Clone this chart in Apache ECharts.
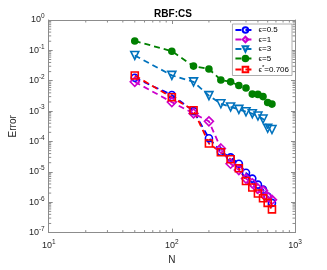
<!DOCTYPE html>
<html><head><meta charset="utf-8">
<script src="https://cdn.jsdelivr.net/npm/echarts@6/dist/echarts.min.js"></script>
<style>html,body{margin:0;padding:0;background:#fff}#c{width:327px;height:270px}</style>
</head><body><div id="c"></div>
<script>
var N = [50,100,150,200,250,300,350,400,450,500,550,600,650];
var err05 = [0.0125,0.0034,0.0010,1.28e-4,4.6e-5,3.0e-5,1.85e-5,9.3e-6,6.0e-6,3.8e-6,2.6e-6,1.55e-6,9.5e-7];
var err1  = [0.0092,0.00198,8.4e-4,4.6e-4,5.9e-5,1.85e-5,1.15e-5,6.0e-6,4.2e-6,2.8e-6,2.4e-6,1.5e-6,1.2e-6];
var err3  = [0.068,0.0150,0.0092,0.00323,0.00175,0.00137,0.00114,0.00095,0.00082,0.00069,0.00055,0.000273,0.000248];
var err5  = [0.204,0.094,0.0303,0.0244,0.0106,0.0092,0.0070,0.0058,0.00363,0.00355,0.0030,0.00193,0.0017];
var errOpt= [0.0148,0.00285,0.00107,8.6e-5,4.4e-5,2.6e-5,1.32e-5,5.0e-6,3.06e-6,1.93e-6,1.35e-6,9.5e-7,5.8e-7];
var seriesNames = ['ϵ=0.5','ϵ=1','ϵ=3','ϵ=5','ϵ*=0.706'];
var xTicks = [10,100,1000];
var yTicks = [1e-7,1e-6,1e-5,1e-4,1e-3,1e-2,1e-1,1];

function pairs(ys){ return N.map(function(n,i){ return [n, ys[i]]; }); }
var xMinor = [], yMinor = [];
for (var d = 1; d <= 2; d++) for (var k = 2; k <= 9; k++) xMinor.push(k*Math.pow(10,d));
for (var e = -7; e <= -1; e++) for (var k2 = 2; k2 <= 9; k2++) yMinor.push(k2*Math.pow(10,e));

var FONT = 'Liberation Sans';
var axisCol = '#8c8c8c';
function supLabel(v){
  var ex = Math.round(Math.log10(v));
  return '{b|10}{s|' + ex + '}';
}
var richLbl = { b:{fontSize:9,color:'#262626',fontFamily:FONT}, s:{fontSize:6.5,color:'#262626',fontFamily:FONT,verticalAlign:'bottom',padding:[0,0,7,0]} };

function mkSeries(name, ys, color, symbol, size, filled, rot){
  return {
    name:name, type:'line', data:pairs(ys), symbol:symbol, symbolSize:size, symbolRotate:rot||0,
    showAllSymbol:true, z:3,
    lineStyle:{color:color, width:1.8, type:[6,4]},
    itemStyle:{color: filled?color:'rgba(255,255,255,0)', borderColor:color, borderWidth:1.6}
  };
}

var chart = echarts.init(document.getElementById('c'), null, {renderer:'canvas'});
var option = {
  animation:false,
  textStyle:{fontFamily:FONT},
  title:{text:'RBF:CS', left:168, textAlign:'center', top:4, textStyle:{fontSize:10, fontWeight:'bold', color:'#000', fontFamily:FONT}},
  grid:{left:42, right:32, top:20, bottom:30},
  legend:{
    orient:'vertical', right:35, top:24, itemWidth:20, itemHeight:7, itemGap:1.5,
    padding:[2,3,2,2], borderColor:'#999', borderWidth:0.8, backgroundColor:'#fff',
    data:seriesNames,
    formatter:function(n){
      if (n==='ϵ*=0.706') return '{t|ϵ}{s|*}{t|=0.706}';
      return '{t|'+n+'}';
    },
    textStyle:{fontSize:8, color:'#000', fontFamily:FONT, padding:[0,0,0,-2],
      rich:{t:{fontSize:8,color:'#000',fontFamily:FONT}, s:{fontSize:6,color:'#000',verticalAlign:'bottom',padding:[0,0,5,0]}}}
  },
  xAxis:[{
    type:'log', min:10, max:1000, logBase:10,
    name:'N', nameLocation:'middle', nameGap:21, nameTextStyle:{fontSize:10,color:'#262626',fontFamily:FONT},
    axisLine:{show:true,onZero:false,lineStyle:{color:axisCol,width:1}},
    axisTick:{show:true,inside:true,length:4,lineStyle:{color:axisCol}},
    axisLabel:{formatter:supLabel, rich:richLbl, margin:6},
    splitLine:{show:false}
  },{
    type:'log', min:10, max:1000, position:'top',
    axisLine:{show:true,onZero:false,lineStyle:{color:axisCol,width:1}},
    axisTick:{show:true,inside:true,length:4,lineStyle:{color:axisCol}},
    axisLabel:{show:false}, splitLine:{show:false}
  }],
  yAxis:[{
    type:'log', min:1e-7, max:1,
    name:'Error', nameLocation:'middle', nameGap:27, nameTextStyle:{fontSize:10,color:'#262626',fontFamily:FONT},
    axisLine:{show:true,onZero:false,lineStyle:{color:axisCol,width:1}},
    axisTick:{show:true,inside:true,length:4,lineStyle:{color:axisCol}},
    axisLabel:{formatter:supLabel, rich:richLbl, margin:4},
    splitLine:{show:false}
  },{
    type:'log', min:1e-7, max:1, position:'right',
    axisLine:{show:true,onZero:false,lineStyle:{color:axisCol,width:1}},
    axisTick:{show:true,inside:true,length:4,lineStyle:{color:axisCol}},
    axisLabel:{show:false}, splitLine:{show:false}
  }],
  series:[
    {
      type:'custom', silent:true, z:1, clip:false,
      data: xMinor.map(function(v){return [v,'x'];}).concat(yMinor.map(function(v){return [v,'y'];})),
      encode:{x:-1,y:-1},
      renderItem:function(params, api){
        var v = api.value(0);
        var kind = params.dataIndex < xMinor.length ? 'x' : 'y';
        var L = 2.5;
        var shapes = [];
        if (kind==='x'){
          var b = api.coord([v,1e-7]), t = api.coord([v,1]);
          shapes.push({type:'line',shape:{x1:b[0],y1:b[1],x2:b[0],y2:b[1]-L},style:{stroke:axisCol,lineWidth:1}});
          shapes.push({type:'line',shape:{x1:t[0],y1:t[1],x2:t[0],y2:t[1]+L},style:{stroke:axisCol,lineWidth:1}});
        } else {
          var l = api.coord([10,v]), r = api.coord([1000,v]);
          shapes.push({type:'line',shape:{x1:l[0],y1:l[1],x2:l[0]+L,y2:l[1]},style:{stroke:axisCol,lineWidth:1}});
          shapes.push({type:'line',shape:{x1:r[0],y1:r[1],x2:r[0]-L,y2:r[1]},style:{stroke:axisCol,lineWidth:1}});
        }
        return {type:'group',children:shapes};
      }
    },
    mkSeries(seriesNames[0], err05, '#0000ff', 'circle', 7, false),
    mkSeries(seriesNames[1], err1, '#cc00cc', 'diamond', 9, false),
    mkSeries(seriesNames[2], err3, '#0072bd', 'triangle', 8, false, 180),
    mkSeries(seriesNames[3], err5, '#008000', 'circle', 6, true),
    mkSeries(seriesNames[4], errOpt, '#ff0000', 'rect', 7, false)
  ]
};
chart.setOption(option);
</script>
</body></html>
